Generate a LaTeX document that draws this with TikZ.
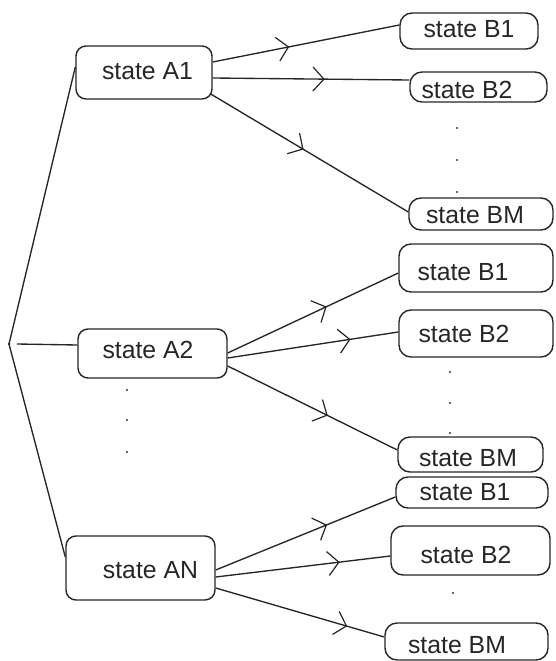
\documentclass[tikz,border=0pt]{standalone}
\usepackage{fontspec}
\setmainfont{Liberation Sans}
\usetikzlibrary{arrows.meta,decorations.markings}
\tikzset{
  box/.style={draw=black!85, line width=1.4pt, rounded corners=10pt, inner sep=0pt},
  bbox/.style={box, rounded corners=12pt},
  txt/.style={anchor=base, inner sep=0pt, font=\fontsize{24.8}{26}\selectfont, text=black!85},
  edge/.style={draw=black!85, line width=1.35pt},
  midarrow/.style={postaction={decorate},
    decoration={markings, mark=at position #1 with {\arrow{Straight Barb[length=11pt,width=24pt,line width=1.2pt]}}}},
  dot/.style={fill=black!80}
}
\begin{document}
\begin{tikzpicture}[x=1pt,y=-1pt]
\useasboundingbox (0,0) rectangle (555,661);
% root
\coordinate (root) at (9,344);
\fill[black!85] (root) circle (1.4pt);
% A nodes
\node[box, minimum width=136pt, minimum height=53pt] (A1) at (144,72.5) {};
\node[box, minimum width=149pt, minimum height=49pt] (A2) at (152.5,353.5) {};
\node[box, minimum width=149pt, minimum height=64pt] (AN) at (140.5,568) {};
\node[txt] at (147.5,79) {state A1};
\node[txt] at (148,358) {state A2};
\node[txt] at (150.5,578) {state AN};
% B nodes group 1
\node[bbox, minimum width=138pt, minimum height=36pt] (B1a) at (469,31) {};
\node[bbox, minimum width=137pt, minimum height=30pt] (B2a) at (478.5,87) {};
\node[bbox, minimum width=144pt, minimum height=32pt] (BMa) at (481,214) {};
\node[txt] at (469,38) {state B1};
\node[txt] at (467,98) {state B2};
\node[txt] at (475,223) {state BM};
% B nodes group 2
\node[bbox, minimum width=154pt, minimum height=48pt] (B1b) at (476,268) {};
\node[bbox, minimum width=154pt, minimum height=47pt] (B2b) at (476,333.5) {};
\node[bbox, minimum width=145pt, minimum height=35pt] (BMb) at (470.5,454.5) {};
\node[txt] at (463,280) {state B1};
\node[txt] at (464,342) {state B2};
\node[txt] at (468,466) {state BM};
% B nodes group 3
\node[bbox, minimum width=152pt, minimum height=31pt] (B1c) at (472,492.5) {};
\node[bbox, minimum width=159pt, minimum height=49pt] (B2c) at (470.5,550.5) {};
\node[bbox, minimum width=163pt, minimum height=37pt] (BMc) at (466.5,641.5) {};
\node[txt] at (465,500) {state B1};
\node[txt] at (466,563) {state B2};
\node[txt] at (457,653) {state BM};
% root connectors
\draw[edge] (root) -- ([yshift=5.5pt]A1.west);
\draw[edge] ([xshift=8pt]root) -- ([yshift=8.5pt]A2.west);
\draw[edge] (root) -- ([yshift=11pt]AN.west);
% group 1 edges
\draw[edge, midarrow=0.41] ([yshift=10.5pt]A1.east) -- ([yshift=6pt]B1a.west);
\draw[edge, midarrow=0.57] ([yshift=-5.5pt]A1.east) -- ([yshift=7pt]B2a.west);
\draw[edge, midarrow=0.47] ([yshift=-21.5pt,xshift=-2pt]A1.east) -- ([yshift=2pt]BMa.west);
% group 2 edges
\draw[edge, midarrow=0.58] ([yshift=0.5pt]A2.east) -- ([yshift=-5pt]B1b.west);
\draw[edge, midarrow=0.72] ([yshift=-4.5pt]A2.east) -- ([yshift=1.5pt]B2b.west);
\draw[edge, midarrow=0.59] ([yshift=-12.5pt]A2.east) -- ([yshift=4.5pt]BMb.west);
% group 3 edges
\draw[edge, midarrow=0.62] ([yshift=-2pt]AN.east) -- ([yshift=-4.5pt]B1c.west);
\draw[edge, midarrow=0.71] ([yshift=-9pt]AN.east) -- ([yshift=-5.5pt]B2c.west);
\draw[edge, midarrow=0.78] ([yshift=-20pt]AN.east) -- ([yshift=4.5pt]BMc.west);
% ellipsis dots
\foreach \p in {(127,390),(127,420),(127,452),
                (457,128),(457,160),(457,192),
                (450,372),(450,403),(450,433),
                (453,593)}
  \fill[dot] \p circle (1.1pt);
\end{tikzpicture}
\end{document}
